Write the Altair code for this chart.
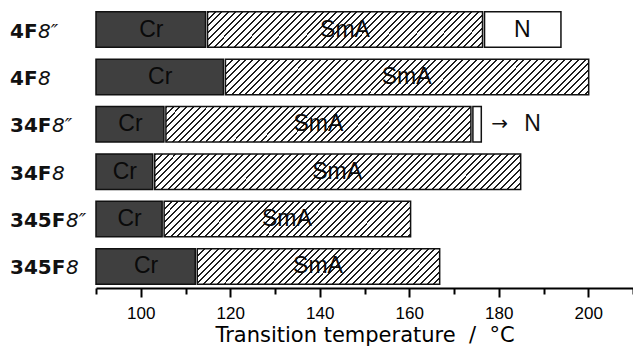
import altair as alt
import pandas as pd

# ---------------- data ----------------
categories = ["4F8″", "4F8", "34F8″", "34F8", "345F8″", "345F8"]
prefixes = ["4F", "4F", "34F", "34F", "345F", "345F"]
suffixes = ["8″", "8", "8″", "8", "8″", "8"]
cr_end = [114.7, 118.7, 105.4, 102.9, 105.0, 112.4]
sma_end = [176.6, 200.1, 174.0, 184.9, 160.3, 166.8]
n_end = [193.9, None, 176.1, None, None, None]
x_min, x_max = 90, 210
tick_values = [90, 100, 110, 120, 130, 140, 150, 160, 170, 180, 190, 200, 210]

df = pd.DataFrame({
    "cat": categories,
    "prefix": prefixes,
    "suffix": suffixes,
    "start": [x_min] * len(categories),
    "cr_end": cr_end,
    "sma_end": sma_end,
    "n_end": n_end,
})

# ---------------- layout / style ----------------
W, H = 537, 280
P_IN, P_OUT = 0.25, 0.08
step = H / (len(categories) - P_IN + 2 * P_OUT)
bar_h = step * (1 - P_IN)
ppu = W / (x_max - x_min)
EDGE = "#111111"
HATCH = "#1e1e1e"

def hatch_gradient(w, h, period=6.8, line=2.0):
    L = w + h
    t = L / (w * w + h * h)
    stops = [alt.GradientStop(color="white", offset=0)]
    k = 0
    while True:
        a = (k * period) / L
        b = (k * period + line) / L
        if a > 1:
            break
        b = min(b, 1)
        stops += [alt.GradientStop(color="white", offset=a),
                  alt.GradientStop(color=HATCH, offset=a),
                  alt.GradientStop(color=HATCH, offset=b),
                  alt.GradientStop(color="white", offset=b)]
        k += 1
    stops.append(alt.GradientStop(color="white", offset=1))
    return alt.LinearGradient(gradient="linear", stops=stops,
                              x1=0, y1=0, x2=t * w, y2=t * h)

xscale = alt.Scale(domain=[x_min, x_max], nice=False, zero=False)
yenc = alt.Y("cat:N", sort=categories, axis=None,
             scale=alt.Scale(paddingInner=P_IN, paddingOuter=P_OUT))

main_axis = alt.Axis(
    values=tick_values,
    labelExpr="datum.value % 20 == 0 && datum.value >= 100 && datum.value <= 200 ? datum.label : ''",
    tickSize={"condition": {"test": "datum.value % 20 == 0", "value": 9}, "value": 6},
    tickWidth=2, tickColor="#000", domainColor="#000", domainWidth=2,
    labelFont="Liberation Sans", labelFontSize=17, labelColor="#000", labelPadding=8,
    grid=False, title="Transition temperature\u00a0\u00a0/\u00a0\u00a0°C",
    titleFont="DejaVu Sans", titleFontSize=21, titleFontWeight="normal",
    titleColor="#000", titlePadding=3,
)

base = alt.Chart(df)

cr = base.mark_bar(fill="#3f3f3f", stroke=EDGE, strokeWidth=1.5, x2Offset=-1).encode(
    x=alt.X("start:Q", scale=xscale, axis=main_axis), x2="cr_end:Q", y=yenc)

layers = [cr]
for i, c in enumerate(categories):
    w = (sma_end[i] - cr_end[i]) * ppu
    layers.append(
        base.transform_filter(alt.datum.cat == c).mark_bar(
            fill=hatch_gradient(w, bar_h), stroke=EDGE, strokeWidth=1.5,
            xOffset=1, x2Offset=(-1 if n_end[i] is not None else 0)
        ).encode(x=alt.X("cr_end:Q", scale=xscale), x2="sma_end:Q", y=yenc))

nbar = base.transform_filter("isValid(datum.n_end)").mark_bar(
    fill="white", stroke=EDGE, strokeWidth=1.5, xOffset=1
).encode(x=alt.X("sma_end:Q", scale=xscale), x2="n_end:Q", y=yenc)
layers.append(nbar)

txt = dict(font="Liberation Sans", fontSize=23, color="#0a0a0a", baseline="middle", align="center")
cr_txt = base.transform_calculate(m="(datum.start + datum.cr_end) / 2").mark_text(**txt).encode(
    x=alt.X("m:Q", scale=xscale), y=yenc, text=alt.value("Cr"))
sma_txt = base.transform_calculate(m="(datum.cr_end + datum.sma_end) / 2").mark_text(**txt).encode(
    x=alt.X("m:Q", scale=xscale), y=yenc, text=alt.value("SmA"))
n_in = base.transform_filter("isValid(datum.n_end) && datum.n_end - datum.sma_end > 8").transform_calculate(
    m="(datum.sma_end + datum.n_end) / 2").mark_text(**txt).encode(
    x=alt.X("m:Q", scale=xscale), y=yenc, text=alt.value("N"))
n_out_arrow = base.transform_filter("isValid(datum.n_end) && datum.n_end - datum.sma_end <= 8").mark_text(
    font="DejaVu Sans", fontSize=20, color="#111", baseline="middle", align="left", dx=10
).encode(x=alt.X("n_end:Q", scale=xscale), y=yenc, text=alt.value("→"))
n_out_n = base.transform_filter("isValid(datum.n_end) && datum.n_end - datum.sma_end <= 8").mark_text(
    font="Liberation Sans", fontSize=23, color="#111", baseline="middle", align="left", dx=43
).encode(x=alt.X("n_end:Q", scale=xscale), y=yenc, text=alt.value("N"))
layers += [cr_txt, sma_txt, n_in, n_out_arrow, n_out_n]

# category labels: bold prefix + italic suffix
lab_pre = base.mark_text(font="DejaVu Sans", fontSize=20, fontWeight="bold", color="#111",
                         baseline="middle", align="left", dy=2).encode(
    x=alt.value(-86), y=yenc, text="prefix:N")
layers.append(lab_pre)
suffix_x = {"4F": -58, "34F": -44, "345F": -30}
for p, xv in suffix_x.items():
    layers.append(base.transform_filter(alt.datum.prefix == p).mark_text(
        font="DejaVu Sans", fontSize=20, fontStyle="italic", color="#111",
        baseline="middle", align="left", dy=2).encode(
        x=alt.value(xv), y=yenc, text="suffix:N"))

chart = alt.layer(*layers).properties(
    width=W, height=H,
    autosize=alt.AutoSizeParams(type="none"),
    padding={"left": 88, "top": 0, "right": 0, "bottom": 64},
    background="white",
).configure_view(stroke=None)

chart.save("out.html", embed_options={"renderer": "svg", "actions": False})
